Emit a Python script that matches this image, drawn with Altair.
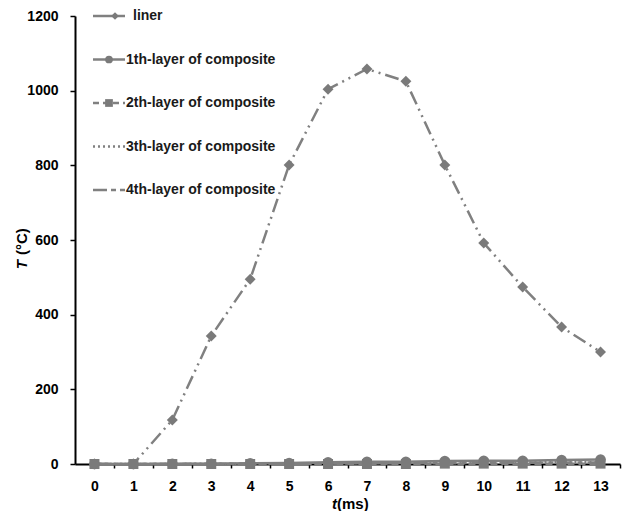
import altair as alt
import pandas as pd

# time steps (ms)
t_ms = list(range(14))

# temperatures (°C)
liner = [0, 0, 118, 343, 495, 801, 1004, 1058, 1025, 801, 592, 474, 367, 300]
layer1 = [0, 0, 1, 1, 2, 3, 5, 6, 6, 8, 9, 9, 11, 12]
layer2 = [0, 0, 0, 0, 0, 0, 0, 0, 0, 1, 1, 1, 1, 1]
layer3 = [0, 0, 0, 1, 1, 1, 2, 2, 3, 3, 4, 4, 5, 5]
layer4 = [0, 0, 0, 0, 1, 1, 1, 2, 2, 2, 3, 3, 4, 4]

series_names = [
    "liner",
    "1th-layer of composite",
    "2th-layer of composite",
    "3th-layer of composite",
    "4th-layer of composite",
]
series_values = [liner, layer1, layer2, layer3, layer4]

GREY = "#808080"
MARK_GREY = "#7a7a7a"
FONT = "Liberation Sans"

rows = []
for name, vals in zip(series_names, series_values):
    for t, v in zip(t_ms, vals):
        rows.append({"series": name, "t": t, "T": v})
df = pd.DataFrame(rows)

x_scale = alt.Scale(domain=[-0.5, 13.5], nice=False, zero=False)
y_scale = alt.Scale(domain=[0, 1200], nice=False)

x_axis = alt.Axis(
    values=t_ms, title=None, grid=False, domainColor="black", domainWidth=2,
    tickColor="black", tickWidth=1.5, tickSize=4, tickOffset=19.5, labelOffset=-19.5,
    labelFont=FONT, labelFontWeight="bold", labelFontSize=14, labelColor="black",
    labelPadding=11, format="d",
)
y_axis = alt.Axis(
    values=[0, 200, 400, 600, 800, 1000, 1200], title=None, grid=False,
    domainColor="black", domainWidth=2, tickColor="black", tickWidth=1.5, tickSize=5,
    labelFont=FONT, labelFontWeight="bold", labelFontSize=14, labelColor="black",
    labelPadding=12, format="d",
)

base = alt.Chart(df).encode(
    x=alt.X("t:Q", scale=x_scale, axis=x_axis),
    y=alt.Y("T:Q", scale=y_scale, axis=y_axis),
)

def one(name):
    return base.transform_filter(alt.datum.series == name)

line_styles = {
    "liner": [14, 5, 2, 5, 2, 5],
    "1th-layer of composite": None,
    "2th-layer of composite": [7, 4],
    "3th-layer of composite": [2, 3],
    "4th-layer of composite": [14, 5, 5, 5],
}

layers = []
for name in series_names:
    kw = dict(color=GREY, strokeWidth=2.5)
    if line_styles[name]:
        kw["strokeDash"] = line_styles[name]
    layers.append(one(name).mark_line(**kw))

layers.append(one("1th-layer of composite").mark_point(
    shape="circle", filled=True, size=110, color=MARK_GREY, opacity=1))
layers.append(one("2th-layer of composite").mark_point(
    shape="square", filled=True, size=100, color=MARK_GREY, opacity=1))
layers.append(one("liner").mark_point(
    shape="diamond", filled=True, size=120, color=MARK_GREY, opacity=1))

# legend drawn in the upper-left corner of the plot
leg = pd.DataFrame({"series": series_names})
legend_dash = [None, None, [6, 4], [2, 3], [14, 4, 5, 4]]
ROW = 43.5
for i, name in enumerate(series_names):
    kw = dict(color=GREY, strokeWidth=2.5)
    if legend_dash[i]:
        kw["strokeDash"] = legend_dash[i]
    layers.append(
        alt.Chart(leg.iloc[[i]]).mark_rule(**kw).encode(
            x=alt.value(18), x2=alt.value(50), y=alt.value(i * ROW),
        )
    )
layers.append(alt.Chart(leg.iloc[[0]]).mark_point(
    shape="diamond", filled=True, size=60, color=MARK_GREY, opacity=1
).encode(x=alt.value(40), y=alt.value(0)))
layers.append(alt.Chart(leg.iloc[[1]]).mark_point(
    shape="circle", filled=True, size=60, color=MARK_GREY, opacity=1
).encode(x=alt.value(34), y=alt.value(ROW)))
layers.append(alt.Chart(leg.iloc[[2]]).mark_point(
    shape="square", filled=True, size=60, color=MARK_GREY, opacity=1
).encode(x=alt.value(34), y=alt.value(2 * ROW)))

for i, name in enumerate(series_names):
    layers.append(
        alt.Chart(leg.iloc[[i]]).mark_text(
            align="left", baseline="middle", font=FONT, fontWeight="bold",
            fontSize=14, color="#1a1a1a",
        ).encode(
            x=alt.value(58 if i == 0 else 51), y=alt.value(i * ROW),
            text="series:N",
        )
    )

# axis titles with italic variable symbols
title_df = pd.DataFrame({"a": [0]})
layers.append(alt.Chart(title_df).mark_text(
    font=FONT, fontWeight="bold", fontStyle="italic", fontSize=15, color="black",
    align="right", baseline="middle",
).encode(x=alt.value(262), y=alt.value(488), text=alt.value("t")))
layers.append(alt.Chart(title_df).mark_text(
    font=FONT, fontWeight="bold", fontSize=15, color="black",
    align="left", baseline="middle",
).encode(x=alt.value(262), y=alt.value(488), text=alt.value("(ms)")))
layers.append(alt.Chart(title_df).mark_text(
    font=FONT, fontWeight="bold", fontStyle="italic", fontSize=15, color="black",
    align="right", baseline="middle", angle=270,
).encode(x=alt.value(-53), y=alt.value(244), text=alt.value("T")))
layers.append(alt.Chart(title_df).mark_text(
    font=FONT, fontWeight="bold", fontSize=15, color="black",
    align="left", baseline="middle", angle=270,
).encode(x=alt.value(-53), y=alt.value(239), text=alt.value("(°C)")))

chart = alt.layer(*layers).properties(
    width=545, height=448,
    autosize=alt.AutoSizeParams(type="none"),
    padding={"left": 75, "top": 16, "right": 2, "bottom": 47},
    background="white",
).configure_view(stroke=None)

chart.save("out.html", embed_options={"renderer": "svg", "actions": False})
